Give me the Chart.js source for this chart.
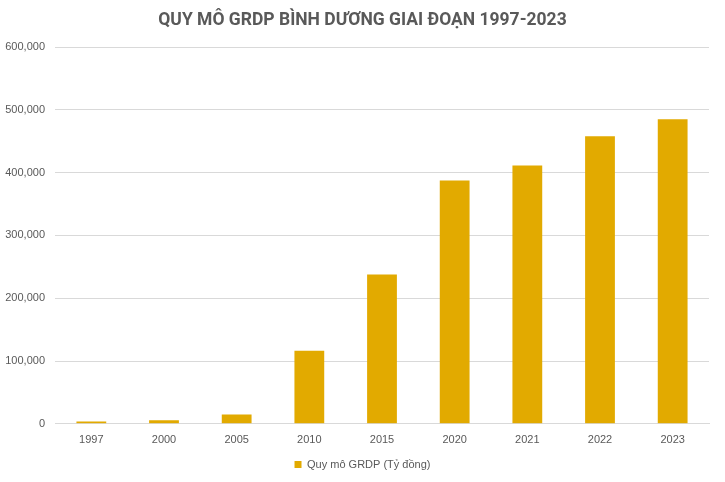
<!DOCTYPE html>
<html>
<head>
<meta charset="utf-8">
<script src="https://cdn.jsdelivr.net/npm/chart.js@4"></script>
<style>
  html, body { margin: 0; padding: 0; background: #fff; }
  #wrap { width: 725px; height: 482px; }
</style>
</head>
<body>
<div id="wrap"><canvas id="grdpChart" width="725" height="482"></canvas></div>
<script>
// Du lieu GRDP Binh Duong (ty dong)
const years = ['1997', '2000', '2005', '2010', '2015', '2020', '2021', '2022', '2023'];
const grdp = [3700, 5500, 14800, 116400, 237600, 387600, 411500, 457700, 484800];
const yTicks = [0, 100000, 200000, 300000, 400000, 500000, 600000];

const gold = '#E2AA00';
const textGray = '#595959';

new Chart(document.getElementById('grdpChart'), {
    type: 'bar',
    data: {
        labels: years,
        datasets: [{
            label: 'Quy mô GRDP (Tỷ đồng)',
            data: grdp,
            backgroundColor: gold,
            borderWidth: 0,
            barPercentage: 0.41,
            categoryPercentage: 1
        }]
    },
    options: {
        responsive: false,
        animation: false,
        layout: { padding: { left: 4, right: 4, top: 6, bottom: 2 } },
        plugins: {
            title: {
                display: true,
                text: 'QUY MÔ GRDP BÌNH DƯƠNG GIAI ĐOẠN 1997-2023',
                color: textGray,
                font: { family: 'Roboto', size: 17.5, weight: 'bold' },
                padding: { top: 4, bottom: 16 }
            },
            legend: {
                position: 'bottom',
                labels: {
                    color: textGray,
                    boxWidth: 7,
                    boxHeight: 7,
                    padding: 10,
                    font: { family: 'Liberation Sans', size: 11 }
                }
            },
            tooltip: { enabled: false }
        },
        scales: {
            x: {
                grid: { display: false },
                border: { color: '#d9d9d9' },
                ticks: {
                    color: textGray,
                    padding: 2,
                    font: { family: 'Liberation Sans', size: 11 }
                }
            },
            y: {
                min: yTicks[0],
                max: yTicks[yTicks.length - 1],
                afterBuildTicks: axis => { axis.ticks = yTicks.map(v => ({ value: v })); },
                afterFit: axis => { axis.width = 51; },
                grid: { color: '#d9d9d9', drawTicks: false },
                border: { display: false },
                ticks: {
                    color: textGray,
                    padding: 10,
                    font: { family: 'Liberation Sans', size: 11 },
                    callback: v => v.toLocaleString('en-US')
                }
            },
            // empty right-hand spacer so the title sits centred on the canvas
            spacer: {
                axis: 'y',
                position: 'right',
                grid: { display: false, drawOnChartArea: false },
                border: { display: false },
                ticks: { display: false },
                afterFit: axis => { axis.width = 12; }
            }
        }
    }
});
</script>
</body>
</html>
